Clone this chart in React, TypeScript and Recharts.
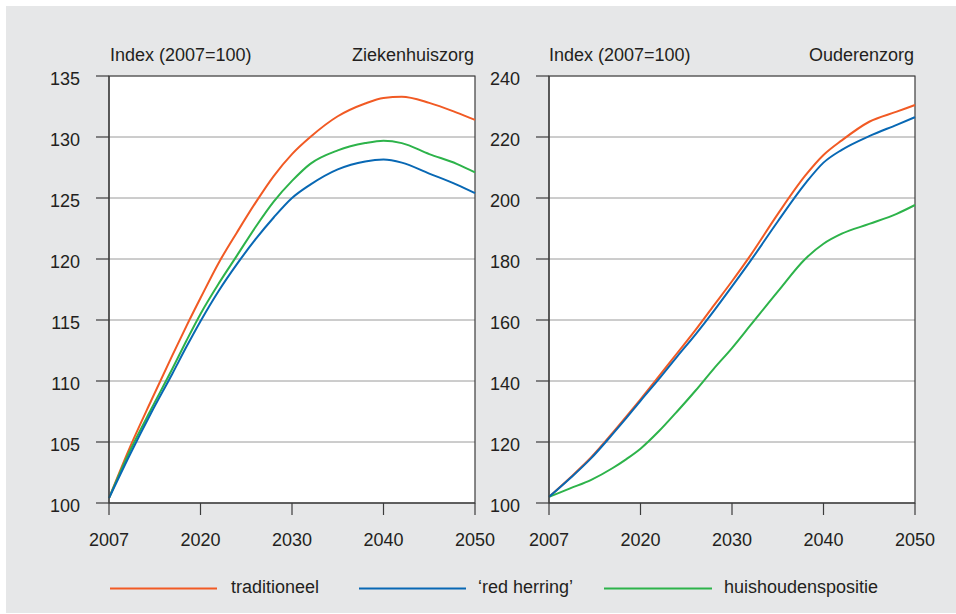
import React from "react";
import { LineChart, Line, XAxis, YAxis, CartesianGrid, ReferenceArea } from "recharts";

const years = [2007, 2010, 2013, 2016, 2018, 2020, 2022, 2024, 2026, 2028, 2030, 2032, 2035, 2038, 2040, 2042, 2045, 2048, 2050];

// Ziekenhuiszorg (hospital care)
const zhTraditioneel = [100.4, 104.6, 108.4, 112.1, 114.5, 116.8, 119.7, 122.2, 124.6, 126.8, 128.6, 130.0, 131.7, 132.75, 133.2, 133.3, 132.8, 132.0, 131.4];
const zhRedHerring = [100.4, 104.0, 107.4, 110.6, 112.8, 114.9, 117.4, 119.6, 121.6, 123.4, 125.0, 126.1, 127.35, 128.0, 128.15, 127.9, 127.0, 126.1, 125.4];
const zhHuishouden = [100.4, 104.3, 107.7, 111.0, 113.3, 115.5, 118.0, 120.3, 122.6, 124.7, 126.4, 127.8, 128.9, 129.5, 129.7, 129.5, 128.6, 127.8, 127.1];

// Ouderenzorg (elderly care)
const ozTraditioneel = [102, 108.3, 115.0, 122.9, 128.4, 134.0, 141.5, 149.1, 156.7, 164.7, 172.7, 181.1, 194.7, 207.3, 214.1, 218.9, 225.0, 228.3, 230.5];
const ozRedHerring = [102, 108.1, 114.7, 122.5, 127.9, 133.5, 140.6, 148.0, 155.2, 162.9, 171.0, 179.3, 192.3, 204.7, 211.6, 215.8, 220.3, 224.0, 226.5];
const ozHuishouden = [102, 104.8, 107.6, 111.4, 114.4, 117.8, 123.5, 130.0, 136.8, 144.0, 150.8, 158.2, 169.3, 180.0, 185.0, 188.3, 191.5, 194.8, 197.7];

const seriesNames = ["traditioneel", "\u2018red herring\u2019", "huishoudenspositie"];
const seriesColors = ["#f15a24", "#0868b4", "#2db34a"];

const xTicks = [2010, 2020, 2030, 2040, 2050];
const xTickLabels = ["2007", "2020", "2030", "2040", "2050"];
const zhTicks = [100, 105, 110, 115, 120, 125, 130, 135];
const ozTicks = [100, 120, 140, 160, 180, 200, 220, 240];

// The source axis puts 2007 where 2010 would be (first segment compressed)
const toPos = (y: number) => (y <= 2020 ? 2010 + ((y - 2007) * 10) / 13 : y);

const build = (a: number[], b: number[], c: number[]) =>
  years.map((y, i) => ({ pos: toPos(y), s0: a[i], s1: b[i], s2: c[i] }));

const zhData = build(zhTraditioneel, zhRedHerring, zhHuishouden);
const ozData = build(ozTraditioneel, ozRedHerring, ozHuishouden);

const FONT = "'Liberation Sans', Arial, Helvetica, sans-serif";
const TXT = "#231f20";
const AXIS = "#3c3c3c";

const YTick = (props: any) => {
  const { x, y, payload } = props;
  return (
    <text x={x} y={y + 2.5} dy="0.355em" textAnchor="end" fontFamily={FONT} fontSize={18} fill={TXT}>
      {payload.value}
    </text>
  );
};

function Panel({ data, ticks, left }: { data: any[]; ticks: number[]; left: number }) {
  const tickStyle = { fontFamily: FONT, fontSize: 18, fill: TXT };
  return (
    <div style={{ position: "absolute", left, top: 0 }}>
      <LineChart width={500} height={560} data={data} margin={{ top: 76, right: 25, bottom: 0, left: 0 }}>
        <CartesianGrid vertical={false} stroke="#9a9a9a" strokeWidth={1} fill="#ffffff" fillOpacity={1} />
        <XAxis
          dataKey="pos"
          type="number"
          domain={[2010, 2050]}
          ticks={xTicks}
          tickFormatter={(v: number) => xTickLabels[xTicks.indexOf(v)]}
          height={57}
          tickSize={12}
          tickMargin={18}
          axisLine={{ stroke: AXIS, strokeWidth: 1.2 }}
          tickLine={{ stroke: AXIS, strokeWidth: 1.2 }}
          tick={tickStyle}
          interval={0}
        />
        <YAxis
          type="number"
          domain={[ticks[0], ticks[ticks.length - 1]]}
          ticks={ticks}
          width={109}
          tickSize={13}
          tickMargin={16}
          axisLine={{ stroke: AXIS, strokeWidth: 1.2 }}
          tickLine={{ stroke: AXIS, strokeWidth: 1.2 }}
          tick={<YTick />}
          interval={0}
        />
        <ReferenceArea
          x1={2010}
          x2={2050}
          y1={ticks[0]}
          y2={ticks[ticks.length - 1]}
          fill="none"
          fillOpacity={0}
          stroke={AXIS}
          strokeWidth={1.2}
        />
        {["s0", "s2", "s1"].map((k) => {
          const idx = Number(k.slice(1));
          return (
            <Line
              key={k}
              dataKey={k}
              name={seriesNames[idx]}
              type="monotone"
              stroke={seriesColors[idx]}
              strokeWidth={2}
              dot={false}
              activeDot={false}
              isAnimationActive={false}
            />
          );
        })}
      </LineChart>
    </div>
  );
}

export default function App() {
  const legendLines = [
    { x1: 110, x2: 217, tx: 231 },
    { x1: 359, x2: 466, tx: 478 },
    { x1: 604, x2: 712, tx: 724 },
  ];
  return (
    <div style={{ position: "absolute", left: 0, top: 0, width: 956, height: 614 }}>
      <div style={{ position: "absolute", left: 6, top: 6, width: 950, height: 607, background: "#e6e7e8" }} />
      <Panel data={zhData} ticks={zhTicks} left={0} />
      <Panel data={ozData} ticks={ozTicks} left={440} />
      <svg width={956} height={614} style={{ position: "absolute", left: 0, top: 0, pointerEvents: "none" }}>
        <g fontFamily={FONT} fontSize={18} fill={TXT}>
          <text x={110} y={61}>Index (2007=100)</text>
          <text x={474} y={61} textAnchor="end">Ziekenhuiszorg</text>
          <text x={549} y={61}>Index (2007=100)</text>
          <text x={914} y={61} textAnchor="end">Ouderenzorg</text>
          {legendLines.map((l, i) => (
            <g key={i}>
              <line x1={l.x1} x2={l.x2} y1={588.5} y2={588.5} stroke={seriesColors[i]} strokeWidth={2} />
              <text x={l.tx} y={593}>{seriesNames[i]}</text>
            </g>
          ))}
        </g>
      </svg>
    </div>
  );
}
